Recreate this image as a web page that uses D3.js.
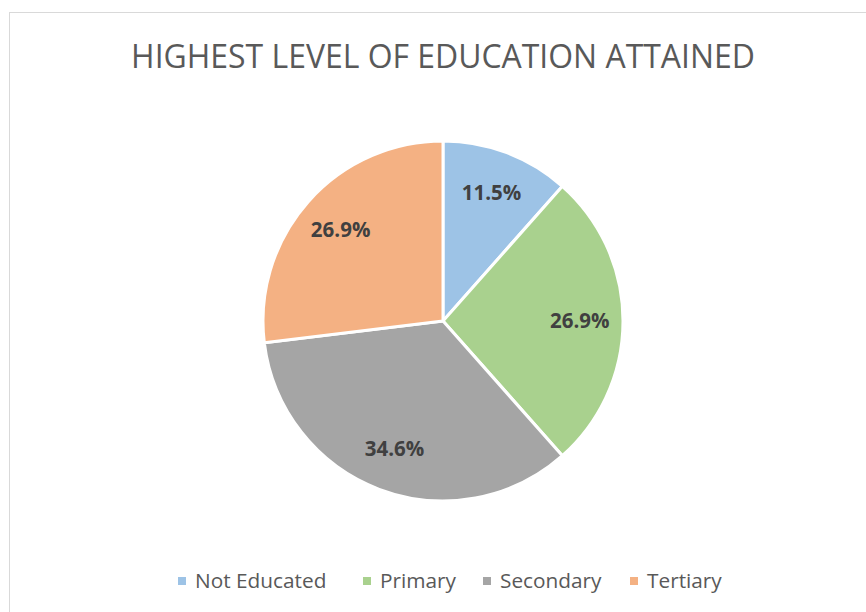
<!DOCTYPE html>
<html>
<head>
<meta charset="utf-8">
<script src="https://cdn.jsdelivr.net/npm/d3@7"></script>
<style>
  body { margin: 0; background: #fff; }
  svg { display: block; font-family: "Open Sans", sans-serif; }
</style>
</head>
<body>
<svg id="chart" width="866" height="612"></svg>
<script>
var categories = ["Not Educated", "Primary", "Secondary", "Tertiary"];
var values = [3, 7, 9, 7];
var colors = ["#9DC3E6", "#A9D18E", "#A5A5A5", "#F4B183"];
var title = "HIGHEST LEVEL OF EDUCATION ATTAINED";

var svg = d3.select("#chart");

// chart area border (cropped on the right and bottom)
svg.append("rect")
    .attr("x", 9.5).attr("y", 12.5)
    .attr("width", 900).attr("height", 700)
    .attr("fill", "none")
    .attr("stroke", "#d9d9d9")
    .attr("stroke-width", 1);

var titleText = svg.append("text")
    .attr("x", 443).attr("y", 68)
    .attr("text-anchor", "middle")
    .attr("fill", "#595959")
    .style("font-size", "30px")
    .text(title);
// fit the title to the width seen in the reference
var tw = titleText.node().getComputedTextLength();
titleText.style("font-size", (30 * 624 / tw) + "px");

var cx = 443, cy = 321, radius = 180;
var total = d3.sum(values);
var pct = d3.format(".1%");

var pie = d3.pie().sort(null).value(function(d) { return d; });
var arcs = pie(values);

var arc = d3.arc().innerRadius(0).outerRadius(radius);
var labelArc = d3.arc().innerRadius(radius * 0.76).outerRadius(radius * 0.76);

var g = svg.append("g").attr("transform", "translate(" + cx + "," + cy + ")");

g.selectAll("path.slice")
    .data(arcs)
    .enter().append("path")
    .attr("class", "slice")
    .attr("d", arc)
    .attr("fill", function(d, i) { return colors[i]; })
    .attr("stroke", "#fff")
    .attr("stroke-width", 3)
    .attr("stroke-linejoin", "round");

g.selectAll("text.label")
    .data(arcs)
    .enter().append("text")
    .attr("class", "label")
    .attr("transform", function(d) { return "translate(" + labelArc.centroid(d) + ")"; })
    .attr("text-anchor", "middle")
    .attr("dy", "0.35em")
    .attr("fill", "#404040")
    .style("font-size", "20.5px")
    .style("font-weight", "bold")
    .text(function(d) { return pct(d.value / total); });

// legend
var legendX = [178, 363, 483, 630];
var legend = svg.selectAll("g.legend")
    .data(categories)
    .enter().append("g")
    .attr("class", "legend")
    .attr("transform", function(d, i) { return "translate(" + legendX[i] + ",581)"; });

legend.append("rect")
    .attr("x", 0).attr("y", -4)
    .attr("width", 8).attr("height", 8)
    .attr("fill", function(d, i) { return colors[i]; });

legend.append("text")
    .attr("x", 17).attr("dy", "0.35em")
    .attr("fill", "#595959")
    .style("font-size", "20.8px")
    .text(function(d) { return d; });
</script>
</body>
</html>
